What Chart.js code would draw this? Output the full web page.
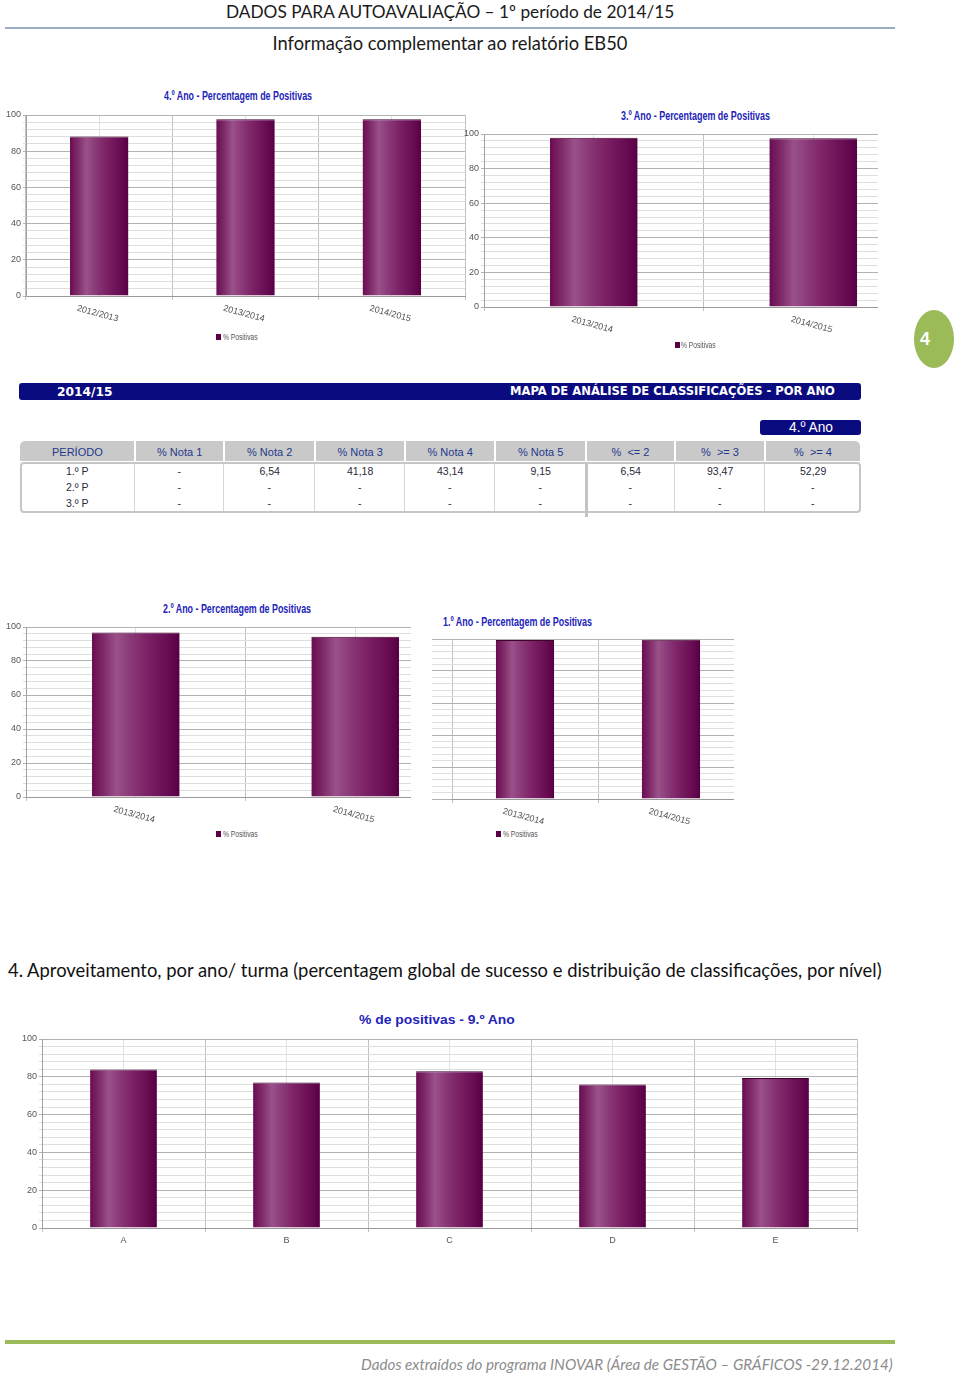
<!DOCTYPE html>
<html lang="pt">
<head>
<meta charset="UTF-8">
<title>Dados para autoavaliação - 1º período de 2014/15</title>
<script src="https://cdn.jsdelivr.net/npm/chart.js"></script>
<style>
    body {
        margin: 0;
        width: 960px;
        height: 1374px;
        position: relative;
        overflow: hidden;
        background: #fff;
        font-family: Lato, "Open Sans", sans-serif;
    }
    .t {
        position: absolute;
        white-space: pre;
        line-height: 1;
        transform-origin: 0 50%;
    }
    .titulo {
        font-family: "Liberation Sans", Arial, sans-serif;
        font-weight: bold;
        color: #2424b8;
    }
    .leg {
        font-family: "Liberation Sans", Arial, sans-serif;
        color: #555;
    }
    .quad {
        position: absolute;
        width: 5px;
        height: 6px;
        background: #5a0045;
    }
    .caixa {
        position: absolute;
        overflow: hidden;
    }
    canvas { position: absolute; }
    .linha {
        position: absolute;
        left: 5px;
        width: 890px;
    }
    .banner {
        position: absolute;
        background: #0b0b80;
        border-radius: 3px;
    }
    .bw {
        color: #fff;
        font-family: "DejaVu Sans", Verdana, sans-serif;
        font-weight: bold;
    }
    .cab {
        position: absolute;
        top: 441px;
        height: 20px;
        background: #c9c9c9;
    }
    .tab {
        font-family: "Liberation Sans", Arial, sans-serif;
    }
</style>
</head>
<body>

<!-- cabeçalho -->
<div class="t" data-cx="450" data-cy="11" data-w="449" data-fs="18" style="color:#1a1a1a">DADOS PARA AUTOAVALIAÇÃO – 1º período de 2014/15</div>
<div class="linha" style="top:27px;height:2px;background:#9aabc2"></div>
<div class="t" data-cx="450" data-cy="43" data-w="355" data-fs="18" style="color:#1a1a1a">Informação complementar ao relatório EB50</div>

<!-- 4.º Ano -->
<div class="t titulo" data-l="164" data-cy="96" data-sx="148" data-fs="12">4.º Ano - Percentagem de Positivas</div>
<canvas id="c4ano" width="470" height="219" style="left:0;top:107px"></canvas>
<div class="quad" style="left:216px;top:334px"></div>
<div class="t leg" data-l="223" data-cy="337" data-sx="35" data-fs="9">% Positivas</div>

<!-- 3.º Ano -->
<div class="t titulo" data-l="621" data-cy="116" data-sx="149" data-fs="12">3.º Ano - Percentagem de Positivas</div>
<div class="caixa" style="left:460px;top:126px;width:418px;height:211px">
    <canvas id="c3ano" width="468" height="211" style="left:0;top:0"></canvas>
</div>
<div class="quad" style="left:675px;top:342px"></div>
<div class="t leg" data-l="681" data-cy="345" data-sx="35" data-fs="9">% Positivas</div>

<!-- green page marker -->
<div style="position:absolute;left:914px;top:310px;width:40px;height:58px;border-radius:50%;background:#9bbb59"></div>
<div class="t" data-cx="925" data-cy="339" data-fs="18" style="color:#fff;font-weight:bold;font-family:'Liberation Sans',Arial,sans-serif">4</div>

<!-- mapa de análise -->
<div class="banner" style="left:19px;top:383px;width:842px;height:17px"></div>
<div class="t bw" data-l="57" data-cy="392" data-w="55" data-fs="10">2014/15</div>
<div class="t bw" data-r="835" data-cy="392" data-w="325" data-fs="10">MAPA DE ANÁLISE DE CLASSIFICAÇÕES - POR ANO</div>
<div class="banner" style="left:760px;top:420px;width:101px;height:15px"></div>
<div class="t tab" data-l="789" data-cy="428" data-w="44" data-fs="10" style="color:#fff">4.º Ano</div>
<div id="tabela"></div>

<!-- 2.º Ano -->
<div class="t titulo" data-l="163" data-cy="609" data-sx="148" data-fs="12">2.º Ano - Percentagem de Positivas</div>
<div class="caixa" style="left:0;top:619px;width:411px;height:208px">
    <canvas id="c2ano" width="470" height="208" style="left:0;top:0"></canvas>
</div>
<div class="quad" style="left:216px;top:831px"></div>
<div class="t leg" data-l="223" data-cy="834" data-sx="35" data-fs="9">% Positivas</div>

<!-- 1.º Ano -->
<div class="t titulo" data-l="443" data-cy="622" data-sx="149" data-fs="12">1.º Ano - Percentagem de Positivas</div>
<div class="caixa" style="left:432px;top:631px;width:302px;height:198px">
    <canvas id="c1ano" width="317" height="198" style="left:0;top:0"></canvas>
</div>
<div class="quad" style="left:496px;top:831px"></div>
<div class="t leg" data-l="503" data-cy="834" data-sx="35" data-fs="9">% Positivas</div>

<!-- secção 4 -->
<div class="t" data-l="8" data-cy="970" data-w="874" data-fs="18" style="color:#111">4. Aproveitamento, por ano/ turma (percentagem global de sucesso e distribuição de classificações, por nível)</div>

<!-- 9.º Ano -->
<div class="t titulo" data-l="359" data-cy="1019" data-sx="156" data-fs="13" style="font-weight:600">% de positivas - 9.º Ano</div>
<canvas id="c9ano" width="852" height="222" style="left:10px;top:1031px"></canvas>

<!-- rodapé -->
<div class="linha" style="top:1340px;height:4px;background:#9bbb59"></div>
<div class="t" data-r="893" data-cy="1364" data-w="532" data-fs="15" style="color:#8c8c8c;font-style:italic">Dados extraídos do programa INOVAR (Área de GESTÃO – GRÁFICOS -29.12.2014)</div>

<script>
    // valores (% de positivas)
    const anos4Labels = ['2012/2013', '2013/2014', '2014/2015'];
    const anos4Values = [88.1, 97.6, 97.6];

    const anos3Labels = ['2013/2014', '2014/2015'];
    const anos3Values = [97.9, 97.5];

    const anos2Labels = ['2013/2014', '2014/2015'];
    const anos2Values = [96.8, 94.3];

    const anos1Labels = ['2013/2014', '2014/2015'];
    const anos1Values = [99.4, 99.6];

    const turmas9Labels = ['A', 'B', 'C', 'D', 'E'];
    const turmas9Values = [83.9, 77.0, 83.0, 75.9, 79.4];

    const yMajor = 20;   // rotulos de 20 em 20
    const yMinor = 4;    // linhas finas de 4 em 4

    // mapa de classificações 4.º ano
    const tabelaColunas = ['PERÍODO', '% Nota 1', '% Nota 2', '% Nota 3', '% Nota 4', '% Nota 5', '%  <= 2', '%  >= 3', '%  >= 4'];
    const tabelaLinhas = [
        ['1.º P', '-', '6,54', '41,18', '43,14', '9,15', '6,54', '93,47', '52,29'],
        ['2.º P', '-', '-', '-', '-', '-', '-', '-', '-'],
        ['3.º P', '-', '-', '-', '-', '-', '-', '-', '-']
    ];

    // ---- tabela ----
    const colX = [20, 135, 224, 315, 405, 495, 586, 675, 765, 861];
    const tabela = document.getElementById('tabela');
    let html = '';
    for (let i = 0; i < tabelaColunas.length; i++) {
        const l = colX[i] + (i ? 1 : 0), r = colX[i + 1] - 1;
        const rad = i === 0 ? 'border-top-left-radius:5px;' : (i === tabelaColunas.length - 1 ? 'border-top-right-radius:5px;' : '');
        html += '<div class="cab" style="left:' + l + 'px;width:' + (r - l) + 'px;' + rad + '"></div>';
        html += '<div class="t tab" data-cx="' + (colX[i] + colX[i + 1]) / 2 + '" data-cy="452" data-fs="11" style="color:#1f3a8c">' + tabelaColunas[i].replace(/</g, '&lt;') + '</div>';
    }
    html += '<div style="position:absolute;left:20px;top:462px;width:837px;height:47px;border:2px solid #c6c6c6;border-radius:4px"></div>';
    for (let i = 1; i < tabelaColunas.length; i++) {
        const w = i === 6 ? 3 : 1;
        html += '<div style="position:absolute;left:' + (colX[i] - 1) + 'px;top:464px;width:' + w + 'px;height:' + (i === 6 ? 53 : 47) + 'px;background:' + (i === 6 ? '#c4c4c4' : '#d6d6d6') + '"></div>';
    }
    tabelaLinhas.forEach((linha, r) => {
        linha.forEach((v, c) => {
            html += '<div class="t tab" data-cx="' + (colX[c] + colX[c + 1]) / 2 + '" data-cy="' + (471 + r * 16) + '" data-fs="10.5" style="color:#2a2a3a">' + v + '</div>';
        });
    });
    tabela.innerHTML = html;

    // ---- textos ----
    document.querySelectorAll('.t').forEach(el => {
        const d = el.dataset;
        el.style.fontSize = d.fs + 'px';
        let sx = 1;
        if (d.w) {
            const w0 = el.offsetWidth;
            el.style.fontSize = (parseFloat(d.fs) * parseFloat(d.w) / w0) + 'px';
        }
        if (d.sx) {
            sx = parseFloat(d.sx) / el.offsetWidth;
            el.style.transform = 'scaleX(' + sx + ')';
        }
        const w = el.offsetWidth * sx, h = el.offsetHeight;
        if (d.cx) el.style.left = (parseFloat(d.cx) - w / 2) + 'px';
        else if (d.r) el.style.left = (parseFloat(d.r) - w) + 'px';
        else el.style.left = d.l + 'px';
        el.style.top = (parseFloat(d.cy) - h / 2) + 'px';
    });

    // ---- gráficos ----
    function barGradient(pct) {
        return function (ctx) {
            const chart = ctx.chart;
            const xs = chart.scales.x;
            if (ctx.type !== 'data' || !xs || !chart.chartArea) return '#7a2264';
            const n = chart.data.labels.length;
            const c = xs.getPixelForValue(ctx.dataIndex);
            const w = xs.width / n * pct;
            if (!isFinite(c) || !isFinite(w) || w <= 0) return '#7a2264';
            const g = chart.ctx.createLinearGradient(c - w / 2, 0, c + w / 2, 0);
            g.addColorStop(0, '#6a0c52');
            g.addColorStop(0.12, '#7c2766');
            g.addColorStop(0.28, '#9a5189');
            g.addColorStop(0.42, '#8c3c7a');
            g.addColorStop(0.62, '#7c2265');
            g.addColorStop(0.85, '#6a0d54');
            g.addColorStop(1, '#580044');
            return g;
        };
    }

    const tickFont = { family: "'Liberation Sans Narrow', 'Liberation Sans', Arial, sans-serif", size: 9 };

    function makeChart(id, labels, values, cfg) {
        const rot = cfg.rotate || 0;
        new Chart(document.getElementById(id), {
            type: 'bar',
            data: {
                labels: labels,
                datasets: [{
                    label: '% Positivas',
                    data: values,
                    backgroundColor: barGradient(cfg.barPct),
                    borderColor: '#3f002d',
                    borderWidth: { top: 1, left: 0, right: 0, bottom: 0 },
                    borderSkipped: 'bottom',
                    barPercentage: cfg.barPct,
                    categoryPercentage: 1
                }]
            },
            options: {
                responsive: false,
                animation: false,
                layout: { padding: { top: 8, right: 5, left: 0, bottom: 0 } },
                plugins: { legend: { display: false }, tooltip: { enabled: false } },
                scales: {
                    x: {
                        offset: true,
                        grid: { offset: true, color: '#c2c2c2', tickLength: 4 },
                        border: { color: '#9a9a9a' },
                        ticks: {
                            font: tickFont,
                            color: '#555',
                            minRotation: -rot,
                            maxRotation: -rot,
                            labelOffset: cfg.labelOffset || 0,
                            padding: cfg.xPad,
                            autoSkip: false
                        },
                        afterFit(s) { s.height = cfg.xHeight; }
                    },
                    xc: {
                        type: 'category',
                        labels: labels,
                        offset: true,
                        position: 'bottom',
                        grid: { offset: false, color: '#e2e2e2', drawTicks: false },
                        border: { display: false },
                        ticks: { display: false },
                        afterFit(s) { s.height = 0; }
                    },
                    y: {
                        min: 0,
                        max: 100,
                        ticks: {
                            stepSize: yMinor,
                            autoSkip: false,
                            display: cfg.showY !== false,
                            font: tickFont,
                            color: '#555',
                            padding: 2,
                            callback: v => (v % yMajor === 0 ? v : '')
                        },
                        grid: {
                            color: c => (c.tick && c.tick.value % yMajor === 0 ? '#b2b2b2' : '#dedede'),
                            tickLength: cfg.yTick || 3
                        },
                        border: { display: cfg.showY !== false, color: '#a0a0a0' },
                        afterFit(s) { s.width = cfg.yWidth; }
                    }
                }
            }
        });
    }

    makeChart('c4ano', anos4Labels, anos4Values, { yWidth: 26, xHeight: 30, barPct: 0.40, rotate: 15, labelOffset: 19, xPad: 14 });
    makeChart('c3ano', anos3Labels, anos3Values, { yWidth: 24, xHeight: 30, barPct: 0.40, rotate: 15, labelOffset: 19, xPad: 14 });
    makeChart('c2ano', anos2Labels, anos2Values, { yWidth: 26, xHeight: 30, barPct: 0.40, rotate: 15, labelOffset: 19, xPad: 14 });
    makeChart('c1ano', anos1Labels, anos1Values, { yWidth: 20, xHeight: 30, barPct: 0.40, rotate: 15, labelOffset: 19, xPad: 14, showY: false, yTick: 20 });
    makeChart('c9ano', turmas9Labels, turmas9Values, { yWidth: 32, xHeight: 25, barPct: 0.41, rotate: 0, xPad: 3 });
</script>
</body>
</html>
